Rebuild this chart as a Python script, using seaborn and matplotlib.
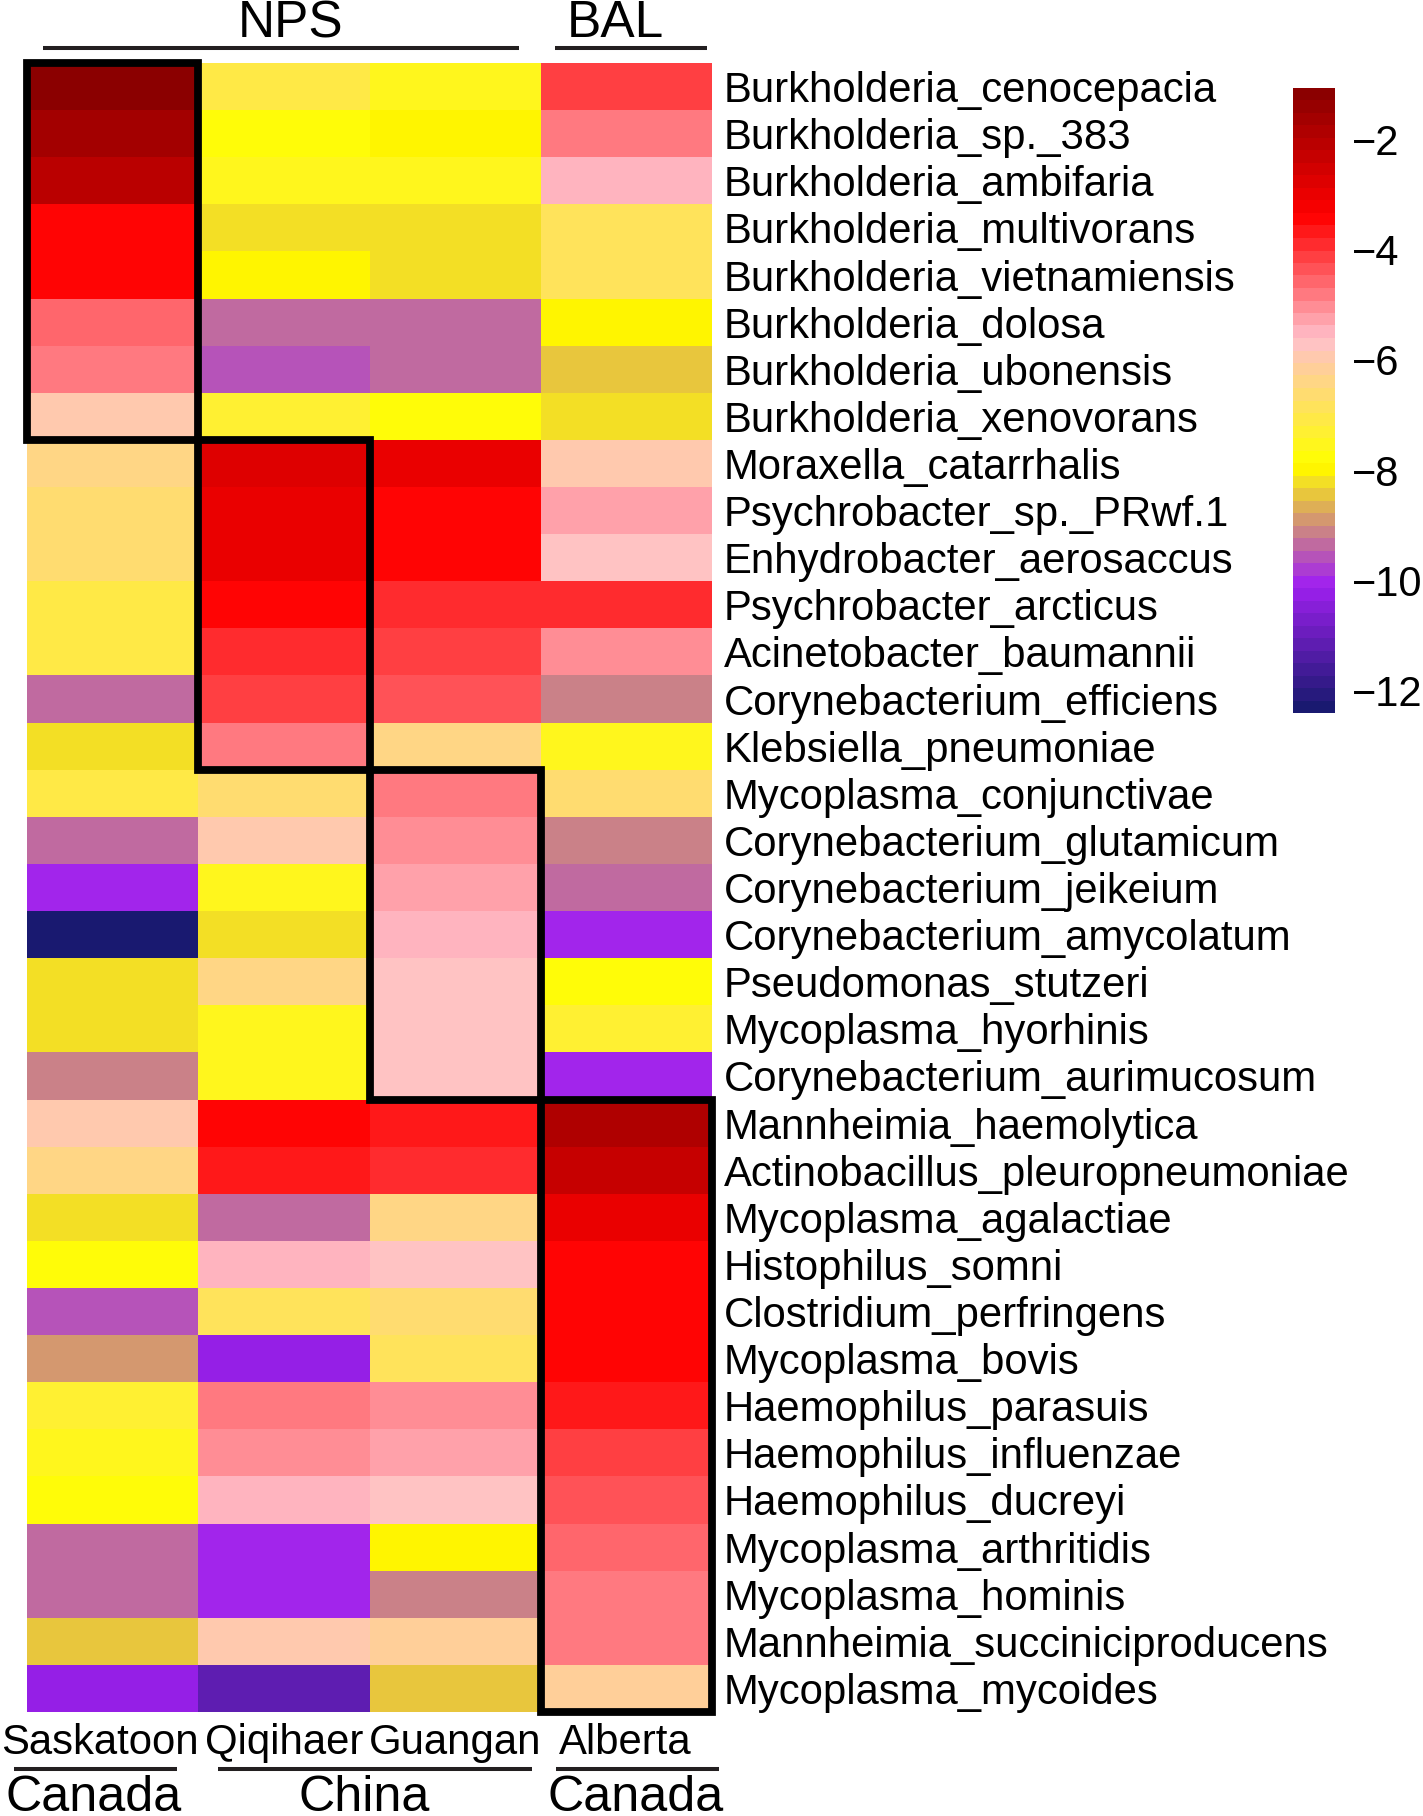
import numpy as np
import pandas as pd
import matplotlib
matplotlib.use('Agg')
import matplotlib.pyplot as plt
import seaborn as sns
from matplotlib.colors import LinearSegmentedColormap
from matplotlib.lines import Line2D
from matplotlib.patches import Rectangle

species = [
    'Burkholderia_cenocepacia', 'Burkholderia_sp._383', 'Burkholderia_ambifaria',
    'Burkholderia_multivorans', 'Burkholderia_vietnamiensis', 'Burkholderia_dolosa',
    'Burkholderia_ubonensis', 'Burkholderia_xenovorans', 'Moraxella_catarrhalis',
    'Psychrobacter_sp._PRwf.1', 'Enhydrobacter_aerosaccus', 'Psychrobacter_arcticus',
    'Acinetobacter_baumannii', 'Corynebacterium_efficiens', 'Klebsiella_pneumoniae',
    'Mycoplasma_conjunctivae', 'Corynebacterium_glutamicum', 'Corynebacterium_jeikeium',
    'Corynebacterium_amycolatum', 'Pseudomonas_stutzeri', 'Mycoplasma_hyorhinis',
    'Corynebacterium_aurimucosum', 'Mannheimia_haemolytica', 'Actinobacillus_pleuropneumoniae',
    'Mycoplasma_agalactiae', 'Histophilus_somni', 'Clostridium_perfringens',
    'Mycoplasma_bovis', 'Haemophilus_parasuis', 'Haemophilus_influenzae',
    'Haemophilus_ducreyi', 'Mycoplasma_arthritidis', 'Mycoplasma_hominis',
    'Mannheimia_succiniciproducens', 'Mycoplasma_mycoides',
]

# log abundance per site
saskatoon = [-1.18, -1.64, -2.09, -3.45, -3.45, -4.58, -4.81, -5.94, -6.40, -6.62,
             -6.62, -7.08, -7.08, -9.34, -8.21, -7.08, -9.34, -10.02, -12.29, -8.21,
             -8.21, -9.11, -5.94, -6.40, -8.21, -7.76, -9.57, -8.89, -7.30, -7.53,
             -7.76, -9.34, -9.34, -8.43, -10.25]
qiqihaer = [-7.08, -7.76, -7.53, -8.21, -7.98, -9.34, -9.57, -7.30, -2.77, -3.00,
            -3.00, -3.45, -3.90, -4.13, -4.81, -6.62, -5.94, -7.53, -8.21, -6.40,
            -7.53, -7.53, -3.45, -3.68, -9.34, -5.49, -6.85, -10.25, -4.81, -5.04,
            -5.49, -10.02, -10.02, -5.94, -11.15]
guangan = [-7.53, -7.98, -7.53, -8.21, -8.21, -9.34, -9.34, -7.76, -3.00, -3.45,
           -3.45, -3.90, -4.13, -4.36, -6.40, -4.81, -5.04, -5.26, -5.49, -5.72,
           -5.72, -5.72, -3.68, -3.90, -6.40, -5.72, -6.62, -6.85, -5.04, -5.26,
           -5.72, -7.98, -9.11, -6.17, -8.43]
alberta = [-4.13, -4.81, -5.49, -6.85, -6.85, -7.98, -8.43, -8.21, -5.94, -5.26,
           -5.72, -3.90, -5.04, -9.11, -7.53, -6.62, -9.11, -9.34, -10.02, -7.76,
           -7.30, -10.02, -1.86, -2.32, -3.00, -3.45, -3.45, -3.45, -3.68, -4.13,
           -4.36, -4.58, -4.81, -4.81, -6.17]

site_names = ['Saskatoon', 'Qiqihaer', 'Guangan', 'Alberta']
cbar_ticks = [-2, -4, -6, -8, -10, -12]

W, H = 1423, 1816


def px(x, y):
    """pixel position from top-left to figure fraction"""
    return x / W, 1 - y / H


def add_text(x, y, s, size):
    fx, fy = px(x, y)
    fig.text(fx, fy, s, fontsize=size, ha='center', va='baseline', color='black')


def add_rule(x0, x1, y):
    fx0, fy = px(x0, y)
    fx1, _ = px(x1, y)
    fig.add_artist(Line2D([fx0, fx1], [fy, fy], transform=fig.transFigure,
                          color='#231f20', linewidth=2.9, solid_capstyle='butt'))


sns.set_theme(style='white')
plt.rcParams['font.family'] = ['Liberation Sans', 'DejaVu Sans']

df = pd.DataFrame({'Saskatoon': saskatoon, 'Qiqihaer': qiqihaer,
                   'Guangan': guangan, 'Alberta': alberta}, index=species)

# midnightblue, purple, yellow, pink, red, darkred with a brighter step below yellow
cmap = LinearSegmentedColormap.from_list(
    'abund',
    [(0.0, '#191970'), (0.2, '#A020F0'), (0.3469, '#E8C63D'), (0.3673, '#F3DF25'),
     (0.3878, '#FFF500'), (0.4, '#FFFF00'), (0.6, '#FFC0CB'), (0.8, '#FF0000'),
     (1.0, '#8B0000')], N=50)

fig = plt.figure(figsize=(W / 100, H / 100), dpi=100, facecolor='white')
ax = fig.add_axes([27 / W, 1 - 1712 / H, 685 / W, 1649 / H])
cax = fig.add_axes([1293 / W, 1 - 713 / H, 42 / W, 625 / H])

sns.heatmap(df, ax=ax, cmap=cmap, vmin=-12.4, vmax=-1.07, cbar_ax=cax,
            xticklabels=False, yticklabels=True, linewidths=0)

ax.yaxis.tick_right()
ax.set_ylabel('')
ax.tick_params(axis='y', length=0, pad=8.5, labelsize=30.2, labelrotation=0)
for lab in ax.get_yticklabels():
    lab.set_color('black')

cax.set_yticks(cbar_ticks)
cax.set_yticklabels(['\u2212' + str(abs(t)) for t in cbar_ticks])
cax.tick_params(axis='y', length=0, pad=12, labelsize=30, colors='black')

# black boxes around the groups: (col, first row, last row)
boxes = [(0, 0, 8), (1, 8, 15), (2, 15, 22), (3, 22, 35)]
for col, r0, r1 in boxes:
    ax.add_patch(Rectangle((col, r0), 1, r1 - r0, fill=False, edgecolor='black',
                           linewidth=5.6, clip_on=False, joinstyle='miter', zorder=5))

# headers
add_text(291, 37, 'NPS', 37)
add_text(615, 37, 'BAL', 37)
add_rule(43, 519, 48)
add_rule(555, 707, 48)

# site names and countries under the cells
add_text(100, 1754, site_names[0], 30.2)
add_text(284, 1754, site_names[1], 30.2)
add_text(455, 1754, site_names[2], 30.2)
add_text(625, 1754, site_names[3], 30.2)
add_rule(14, 177, 1769)
add_rule(218, 532, 1769)
add_rule(556, 719, 1769)
add_text(94, 1811, 'Canada', 36.2)
add_text(364, 1811, 'China', 36.2)
add_text(636, 1811, 'Canada', 36.2)

plt.savefig('out.png', dpi=100)
plt.close()
